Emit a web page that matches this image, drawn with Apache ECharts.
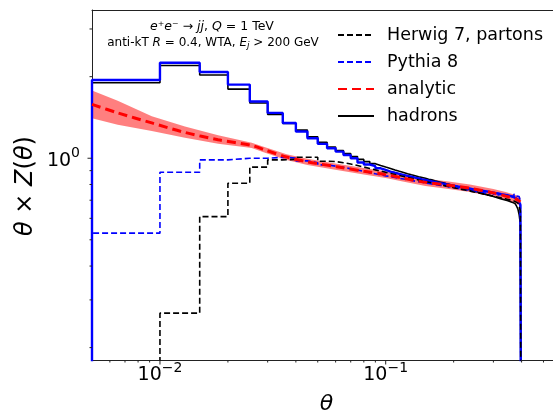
<!DOCTYPE html>
<html>
<head>
<meta charset="utf-8">
<script src="https://cdn.jsdelivr.net/npm/echarts@6/dist/echarts.min.js"></script>
<style>
  html, body { margin: 0; padding: 0; background: #fff; }
  #chart { width: 553px; height: 414px; }
</style>
</head>
<body>
<div id="chart"></div>
<script>
  // axis ranges
  var X_MIN = 0.005, X_MAX = 0.551;
  var Y_MIN = 0.18, Y_MAX = 3.525;
  var FLOOR = 0.01;

  var X_MAJOR = [0.01, 0.1];
  var X_MINOR = [0.006, 0.007, 0.008, 0.009, 0.02, 0.03, 0.04, 0.05, 0.06, 0.07, 0.08, 0.09,
                 0.2, 0.3, 0.4, 0.5];
  var Y_MAJOR = [1];
  var Y_MINOR = [0.2, 0.3, 0.4, 0.5, 0.6, 0.7, 0.8, 0.9, 2, 3];

  // histogram bin edges (theta)
  var EDGES = [0.005, 0.01, 0.015, 0.02, 0.025, 0.03, 0.035, 0.04, 0.045, 0.05,
               0.055, 0.06, 0.065, 0.07, 0.075, 0.08, 0.085, 0.09, 0.095, 0.1,
               0.105, 0.11, 0.115, 0.12, 0.125, 0.13, 0.135, 0.14, 0.145, 0.15,
               0.155, 0.16, 0.165, 0.17, 0.175, 0.18, 0.185, 0.19, 0.195, 0.2,
               0.205, 0.21, 0.215, 0.22, 0.225, 0.23, 0.235, 0.24, 0.245, 0.25,
               0.255, 0.26, 0.265, 0.27, 0.275, 0.28, 0.285, 0.29, 0.295, 0.3,
               0.305, 0.31, 0.315, 0.32, 0.325, 0.33, 0.335, 0.34, 0.345, 0.35,
               0.355, 0.36, 0.365, 0.37, 0.375, 0.38, 0.385, 0.39, 0.395, 0.4];

  // theta x Z(theta) per bin
  var herwigPartons = [0.05, 0.268, 0.609, 0.809, 0.927, 0.986, 0.99, 1.008, 1.008, 0.975,
                       0.972, 0.962, 0.952, 0.94, 0.928, 0.917, 0.906, 0.896, 0.887, 0.879,
                       0.871, 0.863, 0.856, 0.849, 0.843, 0.837, 0.831, 0.826, 0.821, 0.816,
                       0.811, 0.806, 0.802, 0.798, 0.794, 0.79, 0.786, 0.782, 0.779, 0.775,
                       0.772, 0.769, 0.766, 0.763, 0.76, 0.757, 0.754, 0.751, 0.748, 0.746,
                       0.743, 0.741, 0.738, 0.736, 0.733, 0.731, 0.729, 0.727, 0.724, 0.722,
                       0.72, 0.718, 0.716, 0.714, 0.712, 0.71, 0.708, 0.706, 0.704, 0.702,
                       0.7, 0.698, 0.695, 0.692, 0.688, 0.683, 0.676, 0.664, 0.64];
  var pythiaPartons = [0.529, 0.888, 0.986, 1.0, 1.0, 1.008, 1.002, 0.978, 0.962, 0.945,
                       0.935, 0.925, 0.915, 0.905, 0.895, 0.885, 0.876, 0.868, 0.861, 0.855,
                       0.849, 0.843, 0.838, 0.833, 0.828, 0.823, 0.819, 0.815, 0.811, 0.807,
                       0.803, 0.8, 0.797, 0.794, 0.791, 0.788, 0.785, 0.782, 0.779, 0.776,
                       0.773, 0.771, 0.768, 0.766, 0.763, 0.761, 0.758, 0.756, 0.754, 0.752,
                       0.75, 0.748, 0.746, 0.744, 0.742, 0.74, 0.738, 0.744, 0.736, 0.734,
                       0.74, 0.732, 0.73, 0.736, 0.728, 0.726, 0.733, 0.724, 0.737, 0.722,
                       0.728, 0.735, 0.72, 0.738, 0.726, 0.718, 0.722, 0.712, 0.695];
  var herwigHadrons = [1.9, 2.2, 2.03, 1.8, 1.6, 1.45, 1.345, 1.27, 1.2, 1.145,
                       1.1, 1.068, 1.04, 1.015, 0.99, 0.972, 0.955, 0.94, 0.928, 0.917,
                       0.905, 0.895, 0.886, 0.877, 0.869, 0.862, 0.855, 0.849, 0.843, 0.837,
                       0.832, 0.826, 0.821, 0.816, 0.811, 0.806, 0.802, 0.797, 0.793, 0.789,
                       0.785, 0.781, 0.777, 0.773, 0.769, 0.765, 0.761, 0.757, 0.754, 0.75,
                       0.747, 0.743, 0.74, 0.737, 0.734, 0.731, 0.728, 0.725, 0.722, 0.719,
                       0.716, 0.713, 0.711, 0.708, 0.706, 0.703, 0.701, 0.698, 0.696, 0.693,
                       0.69, 0.687, 0.683, 0.679, 0.673, 0.665, 0.65, 0.62, 0.57];
  var pythiaHadrons = [1.945, 2.25, 2.08, 1.87, 1.62, 1.47, 1.35, 1.255, 1.185, 1.13,
                       1.088, 1.058, 1.028, 1.0, 0.965, 0.948, 0.935, 0.918, 0.905, 0.893,
                       0.884, 0.876, 0.868, 0.861, 0.855, 0.848, 0.842, 0.836, 0.831, 0.826,
                       0.822, 0.817, 0.813, 0.809, 0.806, 0.802, 0.799, 0.795, 0.792, 0.789,
                       0.786, 0.783, 0.781, 0.778, 0.775, 0.773, 0.771, 0.768, 0.766, 0.764,
                       0.762, 0.76, 0.758, 0.756, 0.754, 0.752, 0.75, 0.748, 0.746, 0.744,
                       0.742, 0.741, 0.739, 0.737, 0.736, 0.734, 0.732, 0.73, 0.728, 0.726,
                       0.724, 0.721, 0.718, 0.714, 0.71, 0.704, 0.697, 0.688, 0.672];

  // analytic curve with uncertainty band
  var anTheta = [0.005, 0.0065, 0.0092, 0.0129, 0.0181, 0.0255, 0.029, 0.0364, 0.045, 0.0607,
                 0.08, 0.1, 0.119, 0.15, 0.19, 0.236, 0.3, 0.34, 0.38, 0.395];
  var anValue = [1.58, 1.47, 1.35, 1.245, 1.17, 1.115, 1.075, 1.01, 0.97, 0.93,
                 0.895, 0.87, 0.845, 0.815, 0.795, 0.775, 0.745, 0.725, 0.705, 0.69];
  var anLow   = [1.405, 1.33, 1.26, 1.19, 1.13, 1.09, 1.05, 0.985, 0.945, 0.905,
                 0.87, 0.845, 0.82, 0.79, 0.77, 0.75, 0.72, 0.7, 0.68, 0.665];
  var anHigh  = [1.78, 1.63, 1.43, 1.31, 1.215, 1.14, 1.1, 1.035, 0.995, 0.955,
                 0.92, 0.895, 0.87, 0.84, 0.82, 0.8, 0.77, 0.75, 0.73, 0.715];

  var FONT = 'DejaVu Sans';

  function histPoints(vals) {
    var pts = [[EDGES[0], FLOOR]];
    for (var i = 0; i < vals.length; i++) {
      pts.push([EDGES[i], vals[i]]);
    }
    pts.push([EDGES[EDGES.length - 1], vals[vals.length - 1]]);
    pts.push([EDGES[EDGES.length - 1], FLOOR]);
    return pts;
  }

  function powLabel(v) {
    var e = Math.log10(v);
    var r = Math.round(e);
    if (Math.abs(e - r) > 1e-6) return '';
    return '{b|10}{s|' + (r < 0 ? '\u2212' : '') + Math.abs(r) + '}';
  }

  var labelRich = {
    b: { fontSize: 19, fontFamily: FONT, color: '#000', verticalAlign: 'bottom' },
    s: { fontSize: 14, fontFamily: FONT, color: '#000', verticalAlign: 'top', padding: [0, 0, 10, 0] }
  };

  function tickSeries(values, isX, len) {
    return {
      type: 'custom',
      silent: true,
      clip: false,
      z: 10,
      data: values.map(function(v) { return isX ? [v, Y_MIN] : [X_MIN, v]; }),
      renderItem: function(params, api) {
        var p = api.coord([api.value(0), api.value(1)]);
        return {
          type: 'line',
          shape: isX ? { x1: p[0], y1: p[1], x2: p[0], y2: p[1] + len }
                     : { x1: p[0], y1: p[1], x2: p[0] - len, y2: p[1] },
          style: { stroke: '#222', lineWidth: 1 }
        };
      }
    };
  }

  function stepLine(name, vals, color, width, dash, z) {
    return {
      name: name,
      type: 'line',
      step: 'end',
      symbol: 'none',
      z: z,
      data: histPoints(vals),
      lineStyle: { color: color, width: width, type: dash ? [6, 3] : 'solid' },
      itemStyle: { color: color }
    };
  }

  var chart = echarts.init(document.getElementById('chart'));

  chart.setOption({
    animation: false,
    backgroundColor: '#fff',
    grid: { left: 92, right: 0, top: 10, bottom: 54, outerBoundsMode: 'none', containLabel: false },
    xAxis: [{
      type: 'log', logBase: 10, min: X_MIN, max: X_MAX,
      axisLine: { show: true, lineStyle: { color: '#222', width: 1 } },
      axisTick: { show: false },
      splitLine: { show: false },
      axisLabel: { formatter: powLabel, rich: labelRich, margin: 1, showMinLabel: false, showMaxLabel: false },
      name: '\u03b8', nameLocation: 'middle', nameGap: 33,
      nameTextStyle: { fontSize: 22, fontFamily: FONT, fontStyle: 'italic', color: '#000', padding: [0, 0, 0, 8] }
    }, {
      type: 'log', logBase: 10, min: X_MIN, max: X_MAX, position: 'top',
      axisLine: { show: true, lineStyle: { color: '#222', width: 1 } },
      axisTick: { show: false }, axisLabel: { show: false }, splitLine: { show: false }
    }],
    yAxis: [{
      type: 'log', logBase: 10, min: Y_MIN, max: Y_MAX,
      axisLine: { show: true, lineStyle: { color: '#222', width: 1 } },
      axisTick: { show: false },
      splitLine: { show: false },
      axisLabel: { formatter: powLabel, rich: labelRich, margin: 12, showMinLabel: false, showMaxLabel: false }
    }],
    legend: {
      data: ['Herwig 7, partons', 'Pythia 8', 'analytic', 'hadrons'],
      orient: 'vertical', left: 332, top: 20,
      itemWidth: 36, itemHeight: 14, itemGap: 7,
      selectedMode: false,
      itemStyle: { color: 'rgba(0,0,0,0)', borderWidth: 0, opacity: 0 },
      textStyle: { fontSize: 17.5, fontFamily: FONT, color: '#000', padding: [0, 0, 0, 8], lineHeight: 20 }
    },
    graphic: [{
      type: 'text', x: 26, y: 186, rotation: Math.PI / 2, silent: true,
      style: {
        text: '{i|\u03b8} \u00d7 {i|Z}({i|\u03b8})',
        x: 0, y: 0, align: 'center', verticalAlign: 'middle',
        fontSize: 24, fontFamily: FONT, fill: '#000',
        rich: { i: { fontSize: 24, fontFamily: FONT, fontStyle: 'italic', fill: '#000' } }
      }
    }, {
      type: 'text', x: 212, y: 27, silent: true,
      style: {
        text: '{i|e}\u207a{i|e}\u207b \u2192 {i|jj}, {i|Q} = 1 TeV',
        x: 0, y: 0, align: 'center', verticalAlign: 'middle',
        fontSize: 12.5, fontFamily: FONT, fill: '#000',
        rich: { i: { fontSize: 12.5, fontFamily: FONT, fontStyle: 'italic', fill: '#000' } }
      }
    }, {
      type: 'text', x: 213, y: 43, silent: true,
      style: {
        text: 'anti-kT {i|R} = 0.4, WTA, {i|E}{sub|j} > 200 GeV',
        x: 0, y: 0, align: 'center', verticalAlign: 'middle',
        fontSize: 12, fontFamily: FONT, fill: '#000',
        rich: {
          i: { fontSize: 12, fontFamily: FONT, fontStyle: 'italic', fill: '#000' },
          sub: { fontSize: 9, fontFamily: FONT, fontStyle: 'italic', fill: '#000', verticalAlign: 'bottom', padding: [6, 0, 0, 0] }
        }
      }
    }],
    series: [
      {
        type: 'custom', silent: true, z: 1,
        data: [[anTheta[0], anValue[0]]],
        renderItem: function(params, api) {
          var pts = [];
          for (var i = 0; i < anTheta.length; i++) pts.push(api.coord([anTheta[i], anHigh[i]]));
          for (var j = anTheta.length - 1; j >= 0; j--) pts.push(api.coord([anTheta[j], anLow[j]]));
          return { type: 'polygon', shape: { points: pts }, style: { fill: 'rgba(255,0,0,0.5)' } };
        }
      },
      stepLine('hadrons', herwigHadrons, '#000000', 1.6, false, 3),
      stepLine('Pythia 8 hadrons', pythiaHadrons, '#0000ff', 2.4, false, 4),
      stepLine('Pythia 8', pythiaPartons, '#0000ff', 1.6, true, 5),
      stepLine('Herwig 7, partons', herwigPartons, '#000000', 1.6, true, 6),
      {
        name: 'analytic', type: 'line', symbol: 'none', smooth: 0.3, z: 7,
        data: anTheta.map(function(t, i) { return [t, anValue[i]]; }),
        lineStyle: { color: '#ff0000', width: 3, type: [9, 5] },
        itemStyle: { color: '#ff0000' }
      },
      tickSeries(X_MAJOR, true, 4.5),
      tickSeries(X_MINOR, true, 2.5),
      tickSeries(Y_MAJOR, false, 4.5),
      tickSeries(Y_MINOR, false, 2.5)
    ]
  });
</script>
</body>
</html>
